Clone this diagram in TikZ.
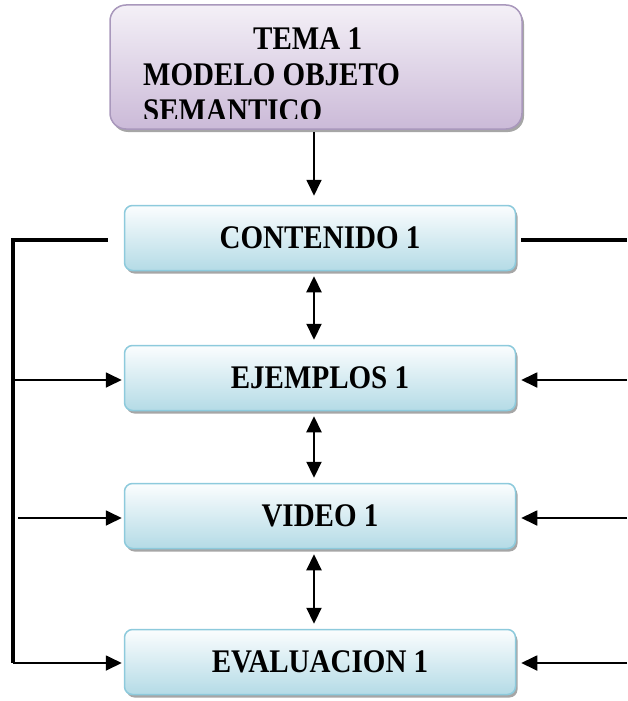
\documentclass[tikz,border=0pt]{standalone}
\usepackage{fontspec}
\setmainfont{Liberation Serif}
\newfontfamily\rotulo[FakeStretch=0.88]{Liberation Serif}
\usepackage{tikz}
\usetikzlibrary{arrows.meta,shadows}

\definecolor{lilaarriba}{HTML}{F4F0F7}
\definecolor{lilaabajo}{HTML}{CBBAD8}
\definecolor{lilaborde}{HTML}{A998BC}
\definecolor{azularriba}{HTML}{FBFDFE}
\definecolor{azulabajo}{HTML}{B4DBE6}
\definecolor{azulborde}{HTML}{8DCADC}

\tikzset{
  tema/.style={rectangle,rounded corners=16pt,draw=lilaborde,line width=1.5pt,
    top color=lilaarriba,bottom color=lilaabajo,minimum width=412pt,minimum height=124pt,
    drop shadow={shadow xshift=2pt,shadow yshift=-3pt,fill=black!50,opacity=.7}},
  paso/.style={rectangle,rounded corners=8pt,draw=azulborde,line width=1.5pt,
    top color=azularriba,bottom color=azulabajo,minimum width=391pt,minimum height=65pt,
    font=\rotulo\bfseries\fontsize{33}{36}\selectfont,
    drop shadow={shadow xshift=2pt,shadow yshift=-3pt,fill=black!50,opacity=.7}},
  flecha/.style={line width=1.8pt,-{Triangle[length=16pt,width=15pt]}},
  doble/.style={line width=2.2pt,{Triangle[length=16pt,width=15pt]}-{Triangle[length=16pt,width=15pt]}},
  linea/.style={line width=3.2pt}
}

\begin{document}
\begin{tikzpicture}[x=1pt,y=-1pt]
			\useasboundingbox (0,0) rectangle (627,701);

			\node[tema] (tema)at(316,67) {};
			\begin{scope}
				\clip (110,5) rectangle (522,118);
				\node[anchor=north west,inner sep=0pt,align=left,
				font=\rotulo\bfseries\fontsize{33}{36}\selectfont] (tematxt)at(143,28)
				{\hspace*{110pt}TEMA 1\\MODELO OBJETO\\SEMANTICO};
			\end{scope}

			\node[paso] (cont)at(320,238) {CONTENIDO 1};
			\node[paso] (ejem)at(320,378) {EJEMPLOS 1};
			\node[paso] (video)at(320,516) {VIDEO 1};
			\node[paso] (eval)at(320,662) {EVALUACION 1};

			\coordinate (eje)at(314,0);
			\coordinate (izq1)at(13,240);
			\coordinate (izq2)at(13,380);
			\coordinate (izq3)at(18,518);
			\coordinate (izq4)at(13,663);
			\coordinate (der1)at(627,240);
			\coordinate (der2)at(627,380);
			\coordinate (der3)at(627,518);
			\coordinate (der4)at(627,663);

			\draw[flecha,shorten <=2pt,shorten >=9pt] (tema.south-|eje) -- (cont.north-|eje);
			\draw[doble,shorten <=5pt,shorten >=5pt] (cont.south-|eje) -- (ejem.north-|eje);
			\draw[doble,shorten <=5pt,shorten >=5pt] (ejem.south-|eje) -- (video.north-|eje);
			\draw[doble,shorten <=5pt,shorten >=5pt] (video.south-|eje) -- (eval.north-|eje);

			\draw[linea,shorten <=16pt] (cont.west|-izq1) -- (izq1) -- (izq4);
			\draw[flecha,shorten >=2pt] (izq4) -- (eval.west|-izq4);
			\draw[flecha,shorten >=2pt] (izq2) -- (ejem.west|-izq2);
			\draw[flecha,shorten >=2pt] (izq3) -- (video.west|-izq3);

			\draw[linea,shorten <=5pt] (cont.east|-der1) -- (der1);
			\draw[flecha,shorten >=5pt] (der2) -- (ejem.east|-der2);
			\draw[flecha,shorten >=5pt] (der3) -- (video.east|-der3);
			\draw[flecha,shorten >=5pt] (der4) -- (eval.east|-der4);
		\end{tikzpicture}
\end{document}
